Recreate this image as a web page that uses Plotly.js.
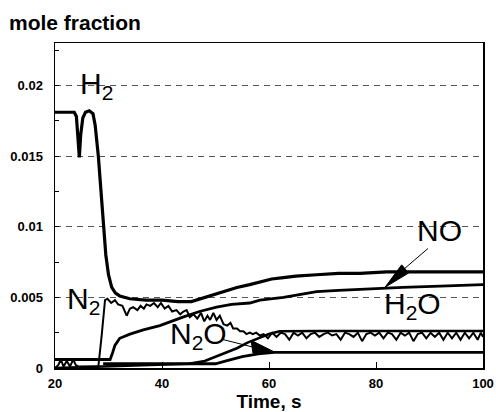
<!DOCTYPE html>
<html>
<head>
<meta charset="utf-8">
<script src="https://cdn.plot.ly/plotly-3.0.1.min.js"></script>
<style>
  html, body { margin: 0; padding: 0; background: #fff; }
  #chart { width: 496px; height: 412px; }
</style>
</head>
<body>
<div id="chart"></div>
<script>
// Time axis (s) and mole fractions of the measured species

// H2: high during the rich pulse, then drops and recovers slowly
const h2Time = [20, 23.6, 24.0, 24.35, 24.55, 24.8, 25.2, 25.7, 26.4, 27.1, 27.5, 28.1, 28.6, 29.0, 29.5, 30.0, 30.6, 31.3, 32.1, 34.0, 37, 40, 43, 45.5, 48, 50.2, 52, 54, 56.4, 58.3, 60.5, 62.7, 65, 68.9, 73, 77, 82, 90, 100];
const h2 = [0.0181, 0.0181, 0.0178, 0.0158, 0.0149, 0.0165, 0.0177, 0.0181, 0.0182, 0.0180, 0.0172, 0.0150, 0.0125, 0.0100, 0.0080, 0.0066, 0.0057, 0.0053, 0.0051, 0.0049, 0.0048, 0.0048, 0.0047, 0.0047, 0.0050, 0.0053, 0.0055, 0.0057, 0.0059, 0.0061, 0.0063, 0.0064, 0.0065, 0.0066, 0.0067, 0.0067, 0.0068, 0.0068, 0.0068];

// NO
const noTime = [20, 30.3, 30.7, 31.2, 32.1, 34.0, 36.5, 39.6, 43.9, 47.0, 50.2, 53.0, 56.4, 58.3, 62.7, 68.9, 73, 78, 85, 92, 100];
const no = [0.0006, 0.0006, 0.0010, 0.0016, 0.0021, 0.0024, 0.0027, 0.0030, 0.0036, 0.0040, 0.0043, 0.0045, 0.0046, 0.0048, 0.0050, 0.0054, 0.0055, 0.0056, 0.0057, 0.0058, 0.0059];

// H2O
const h2oTime = [20, 45, 48, 50, 52, 54, 56, 58, 60, 62, 65, 70, 80, 90, 100];
const h2o = [0.0000, 0.0003, 0.0005, 0.0008, 0.0011, 0.0014, 0.0018, 0.0021, 0.0024, 0.0026, 0.00262, 0.00262, 0.00262, 0.00262, 0.00262];

// N2O
const n2oTime = [29, 35, 40, 45, 50, 52, 55, 58, 61, 70, 80, 90, 100];
const n2o = [0.0003, 0.0003, 0.0003, 0.0003, 0.0003, 0.0005, 0.0008, 0.0010, 0.0011, 0.0011, 0.0011, 0.0011, 0.0011];

// N2 (noisy signal)
const n2Time = [20, 20.6, 21.1, 21.6, 22.2, 22.8, 23.4, 23.9, 24.5, 28.1,
  28.7, 29.35, 29.8, 30.5, 31.2, 31.8, 32.6, 33.4, 34.0, 34.6,
  35.4, 36.0, 36.6, 37.1, 37.8, 38.5, 39.2, 39.8, 40.5, 41.2,
  41.9, 42.7, 43.4, 44.0, 44.6, 45.2, 45.9, 46.6, 47.3, 47.9,
  48.5, 49.0, 49.6, 50.2, 50.8, 51.5, 52.2, 52.8, 53.3, 54.0,
  54.6, 55.2, 55.8, 56.4, 57.0, 57.6, 58.3,
  59.0, 59.8, 60.6, 61.4, 62.2, 63.0, 63.8, 64.6, 65.4, 66.2,
  67.0, 67.8, 68.6, 69.4, 70.2, 71.0, 71.8, 72.6, 73.4, 74.2,
  75.0, 75.8, 76.6, 77.4, 78.2, 79.0, 79.8, 80.6, 81.4, 82.2,
  83.0, 83.8, 84.6, 85.4, 86.2, 87.0, 87.8, 88.6, 89.4, 90.2,
  91.0, 91.8, 92.6, 93.4, 94.2, 95.0, 95.8, 96.6, 97.4, 98.2,
  99.0, 99.6, 100];
const n2 = [0, 0.0002, 0.0006, 0.0001, 0.0005, 0.0001, 0.0006, 0.0002, 0.0001, 0.0001,
  0.0022, 0.0048, 0.0049, 0.0046, 0.0048, 0.0045, 0.0044, 0.0037, 0.0042, 0.0043,
  0.0041, 0.0044, 0.0042, 0.0045, 0.0044, 0.0046, 0.0043, 0.0046, 0.0042, 0.0044,
  0.0040, 0.0041, 0.0038, 0.0040, 0.0041, 0.0036, 0.0038, 0.0035, 0.0039, 0.0033,
  0.0037, 0.0034, 0.0039, 0.0034, 0.0037, 0.0031, 0.0030, 0.0032, 0.0028, 0.0028,
  0.0026, 0.0026, 0.0024, 0.0025, 0.0024, 0.0025, 0.0023,
  0.0024, 0.0021, 0.0025, 0.0022, 0.0025, 0.0024, 0.0020, 0.0025, 0.0023, 0.0025,
  0.0021, 0.0024, 0.0025, 0.0022, 0.0024, 0.0025, 0.0023, 0.0024, 0.0020, 0.0025,
  0.0024, 0.0022, 0.0025, 0.0019, 0.0024, 0.0025, 0.0023, 0.0025, 0.0021, 0.0025,
  0.0024, 0.0020, 0.0025, 0.0023, 0.0025, 0.0019, 0.0024, 0.0025, 0.0021, 0.0025,
  0.0022, 0.0025, 0.0020, 0.0025, 0.0021, 0.0025, 0.0020, 0.0025, 0.0021, 0.0025,
  0.0020, 0.0025, 0.0022];

// Axis ticks
const xTicks = [20, 40, 60, 80, 100];
const yTicks = [0, 0.005, 0.01, 0.015, 0.02];
const yTickText = ['0', '0.005', '0.01', '0.015', '0.02'];

const lineTrace = (x, y, w) => ({
  x: x, y: y, type: 'scatter', mode: 'lines',
  line: { color: '#000', width: w, shape: 'linear' },
  hoverinfo: 'skip', showlegend: false
});

const traces = [
  lineTrace(n2oTime, n2o, 2.8),
  lineTrace(h2oTime, h2o, 2.6),
  lineTrace(n2Time, n2, 2.0),
  lineTrace(noTime, no, 2.8),
  lineTrace(h2Time, h2, 3.2)
];

const sans = 'Liberation Sans, Arial, sans-serif';
const labelFont = { family: sans, size: 30, color: '#000' };
const label = (text, x, y) => ({
  text: text, x: x, y: y, xref: 'x', yref: 'y',
  xanchor: 'left', yanchor: 'middle', showarrow: false, font: labelFont
});

const layout = {
  width: 496, height: 412,
  margin: { l: 55, r: 13, t: 43, b: 44 },
  paper_bgcolor: '#fff', plot_bgcolor: '#fff',
  showlegend: false,
  title: {
    text: '<b>mole fraction</b>',
    x: 9 / 496, xanchor: 'left', xref: 'container',
    y: 1 - 23 / 412, yanchor: 'middle', yref: 'container',
    font: { family: sans, size: 21, color: '#000' }
  },
  xaxis: {
    range: [20, 100], tickvals: xTicks, ticktext: xTicks.map(String),
    ticks: 'inside', ticklen: 6, tickwidth: 1, tickcolor: '#000',
    ticklabelstandoff: 3,
    showline: true, mirror: true, linecolor: '#000', linewidth: 1.5,
    showgrid: false, zeroline: false,
    tickfont: { family: sans, size: 13, color: '#000', weight: 'bold' },
    title: { text: '<b>Time, s</b>', standoff: 11,
      font: { family: sans, size: 19, color: '#000' } }
  },
  yaxis: {
    range: [0, 0.023], tickvals: yTicks, ticktext: yTickText,
    ticks: 'inside', ticklen: 4, tickwidth: 1, tickcolor: '#000',
    ticklabelstandoff: 8,
    minor: { dtick: 0.0025, ticks: 'inside', ticklen: 4, tickcolor: '#000', showgrid: false },
    showline: true, mirror: true, linecolor: '#000', linewidth: 1.5,
    showgrid: true, gridcolor: '#555', gridwidth: 1, griddash: '6px,5px',
    zeroline: false,
    tickfont: { family: sans, size: 13, color: '#000', weight: 'bold' }
  },
  annotations: [
    label('H<sub>2</sub>', 24.3, 0.0200),
    label('N<sub>2</sub>', 21.9, 0.0048),
    label('N<sub>2</sub>O', 41.1, 0.0023),
    label('NO', 87.3, 0.0097),
    label('H<sub>2</sub>O', 81.1, 0.0044)
  ],
  shapes: [
    // pointer from the NO label
    { type: 'line', xref: 'x', yref: 'y', x0: 89.72, y0: 0.00846, x1: 84.0, y1: 0.0066,
      line: { color: '#000', width: 1 } },
    { type: 'path', xref: 'x', yref: 'y',
      path: 'M81.68,0.00571 L86.1,0.00672 L84.8,0.00730 Z',
      fillcolor: '#000', line: { color: '#000', width: 1 } },
    // pointer from the N2O label
    { type: 'line', xref: 'x', yref: 'y', x0: 51.21, y0: 0.00203, x1: 56.8, y1: 0.0015,
      line: { color: '#000', width: 1 } },
    { type: 'path', xref: 'x', yref: 'y',
      path: 'M60.93,0.00115 L56.64,0.00196 L57.01,0.00104 Z',
      fillcolor: '#000', line: { color: '#000', width: 1 } }
  ]
};

Plotly.newPlot('chart', traces, layout, { displayModeBar: false, staticPlot: true });
</script>
</body>
</html>
